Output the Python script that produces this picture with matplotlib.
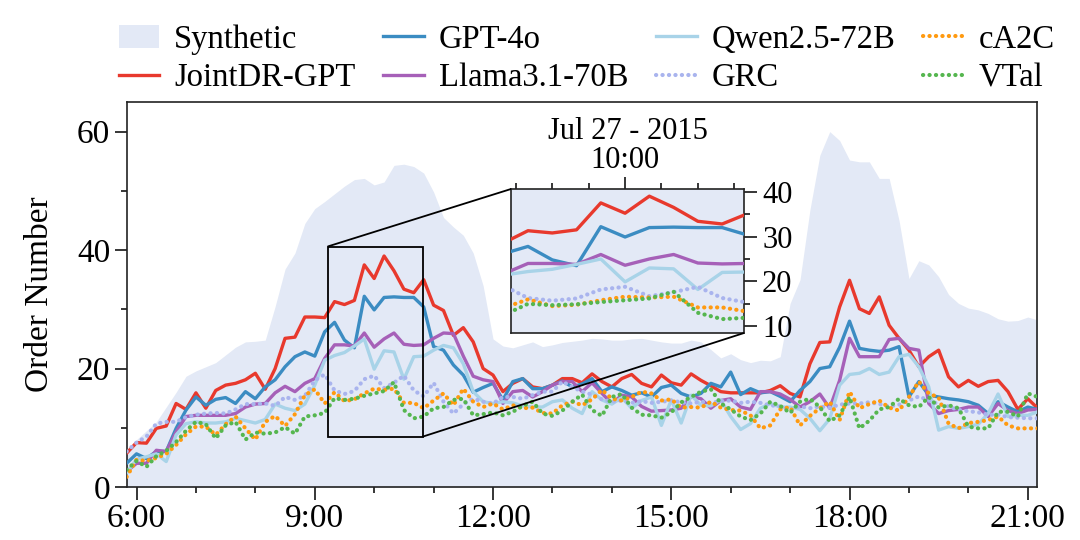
import numpy as np
import pandas as pd
import matplotlib
matplotlib.use("Agg")
import matplotlib.pyplot as plt
import matplotlib.dates as mdates
from matplotlib.ticker import FuncFormatter, MultipleLocator
from matplotlib.lines import Line2D
from matplotlib.patches import Patch
from mpl_toolkits.axes_grid1.inset_locator import mark_inset

plt.rcParams['font.family'] = ['Liberation Serif', 'DejaVu Serif']

# sampling grid: 10-minute steps, 05:50 .. 21:10 on Jul 27 2015
times = pd.date_range("2015-07-27 05:50", "2015-07-27 21:10", freq="10min").to_numpy()

labels = ["Synthetic", "JointDR-GPT", "GPT-4o", "Llama3.1-70B",
          "Qwen2.5-72B", "GRC", "cA2C", "VTal"]

synthetic = [5.5,
             8.0, 9.5, 11.0, 13.5, 16.0, 18.7,
             19.6, 20.3, 21.0, 22.3, 23.6, 24.5,
             24.6, 24.8, 30.5, 36.8, 39.5, 44.5,
             47.0, 48.2, 49.5, 50.8, 51.9, 52.1,
             51.0, 51.5, 54.3, 54.5, 54.1, 53.0,
             49.8, 45.5, 43.9, 42.5, 39.5, 34.0,
             25.0, 23.8, 23.5, 24.0, 24.5, 23.7,
             24.0, 24.4, 24.6, 24.8, 25.1, 25.0,
             24.8, 24.8, 25.0, 25.1, 24.8, 24.5,
             24.3, 24.3, 24.8, 24.5, 23.2, 21.8,
             22.5, 21.5, 21.0, 21.4, 21.3, 22.0,
             31.0, 35.0, 46.8, 56.0, 60.0, 58.5,
             55.2, 54.9, 54.9, 52.1, 52.1, 45.0,
             35.2, 38.2, 37.5, 35.5, 32.5, 31.0,
             30.2, 29.9, 29.3, 28.4, 28.0, 28.1,
             28.7, 28.2]

jointdr = [5.7,
           7.5, 7.4, 9.9, 10.3, 14.1, 13.1,
           15.9, 13.3, 16.3, 17.2, 17.5, 18.1,
           19.2, 16.5, 20.0, 25.1, 25.3, 28.7,
           28.7, 28.6, 31.3, 30.8, 31.5, 37.5,
           35.2, 39.0, 36.5, 33.4, 32.8, 35.0,
           30.7, 29.8, 25.6, 26.9, 24.5, 20.0,
           18.9, 16.1, 17.5, 18.3, 16.9, 16.6,
           17.2, 18.3, 18.3, 17.6, 19.1, 17.8,
           16.9, 18.3, 19.0, 17.5, 16.9, 18.9,
           17.6, 17.2, 19.1, 18.0, 17.1, 16.1,
           15.9, 15.9, 15.9, 15.9, 16.3, 17.1,
           15.8, 15.2, 20.8, 24.4, 24.5, 30.4,
           34.9, 30.1, 29.3, 32.1, 27.3, 25.1,
           23.1, 20.3, 22.0, 23.1, 18.6, 16.9,
           18.0, 17.0, 17.8, 18.0, 16.1, 13.1,
           14.9, 13.3]

gpt4o = [4.0,
         5.6, 4.8, 6.0, 6.0, 9.9, 13.0,
         15.2, 13.8, 14.8, 15.1, 14.1, 16.1,
         14.9, 16.9, 18.1, 20.3, 22.0, 22.8,
         22.1, 26.2, 27.8, 24.8, 23.5, 32.2,
         29.9, 32.0, 32.1, 32.0, 32.0, 30.4,
         23.7, 23.1, 20.6, 18.9, 16.0, 16.8,
         17.5, 14.7, 17.8, 18.3, 16.6, 16.6,
         17.2, 17.9, 16.9, 17.4, 18.3, 16.1,
         16.9, 16.3, 15.5, 15.9, 15.2, 16.8,
         17.2, 15.8, 15.2, 15.8, 17.5, 16.9,
         19.4, 15.6, 16.6, 15.9, 16.1, 15.3,
         14.4, 16.3, 17.8, 20.0, 20.3, 23.6,
         28.0, 23.4, 23.1, 22.9, 23.1, 23.7,
         15.2, 17.8, 15.5, 15.2, 14.9, 14.7,
         14.4, 13.8, 12.4, 14.4, 13.5, 12.7,
         13.5, 13.1]

llama = [2.6,
         4.0, 4.0, 6.2, 6.0, 9.3, 11.9,
         12.1, 12.1, 12.1, 12.1, 12.4, 13.5,
         14.0, 14.1, 15.9, 17.0, 16.1, 17.5,
         18.3, 21.7, 24.0, 24.0, 23.8, 26.0,
         23.6, 25.0, 26.0, 24.1, 23.9, 24.0,
         25.1, 26.0, 25.9, 22.1, 18.7, 18.1,
         17.8, 14.1, 16.1, 16.3, 15.2, 16.1,
         17.2, 17.8, 17.8, 16.1, 17.6, 15.8,
         14.1, 15.5, 15.2, 13.6, 12.8, 12.9,
         13.0, 13.3, 15.3, 14.9, 13.3, 14.6,
         14.9, 13.5, 13.1, 16.1, 16.1, 15.7,
         14.8, 13.5, 14.4, 15.7, 13.3, 18.0,
         25.1, 22.0, 22.0, 22.0, 24.9, 25.1,
         23.4, 23.1, 14.1, 12.4, 12.9, 13.1,
         13.5, 13.5, 11.9, 14.1, 12.9, 12.4,
         13.0, 13.1]

qwen = [2.3,
        4.7, 5.1, 5.6, 4.3, 8.8, 10.7,
        11.0, 10.8, 10.8, 11.0, 11.6, 11.2,
        10.8, 11.4, 14.0, 13.3, 12.9, 14.0,
        17.2, 21.4, 22.2, 22.7, 23.8, 25.0,
        19.9, 23.0, 22.8, 18.2, 22.0, 22.1,
        23.1, 23.9, 23.5, 20.8, 16.1, 14.4,
        14.1, 14.4, 14.2, 13.7, 13.5, 13.5,
        14.4, 14.7, 13.3, 12.4, 16.1, 14.7,
        14.0, 15.1, 13.3, 14.6, 15.2, 10.4,
        14.7, 10.8, 15.5, 13.8, 13.7, 14.7,
        11.9, 9.7, 10.7, 13.3, 14.1, 13.5,
        13.5, 13.1, 11.6, 9.5, 11.5, 17.2,
        19.0, 19.2, 20.0, 19.0, 19.4, 22.0,
        22.4, 20.3, 16.9, 9.6, 10.2, 9.9,
        10.2, 10.6, 12.4, 15.7, 11.9, 12.1,
        12.1, 12.7]

grc = [6.0,
       7.5, 8.5, 10.7, 11.0, 11.0, 11.8,
       12.2, 12.4, 12.5, 12.4, 13.1, 14.0,
       14.0, 14.1, 13.7, 15.2, 14.7, 15.4,
       18.0, 19.0, 16.3, 15.7, 16.2, 18.2,
       18.8, 16.7, 17.6, 18.8, 16.3, 15.3,
       17.6, 14.4, 12.4, 14.0, 14.9, 14.4,
       14.1, 15.2, 15.2, 14.9, 15.5, 16.1,
       16.1, 17.8, 16.9, 16.1, 15.6, 14.8,
       14.4, 14.6, 14.2, 14.5, 14.2, 14.4,
       14.6, 14.3, 14.1, 14.4, 14.2, 14.5,
       14.6, 14.2, 14.4, 14.2, 13.8, 13.6,
       13.0, 13.6, 13.3, 13.6, 13.4, 13.9,
       14.1, 14.1, 14.3, 14.0, 13.6, 13.9,
       14.6, 15.3, 14.6, 14.0, 13.6, 13.0,
       12.8, 12.6, 12.2, 12.2, 11.8, 11.7,
       11.6, 11.6]

ca2c = [1.7,
        4.6, 4.4, 4.9, 5.6, 7.1, 8.9,
        10.2, 10.2, 8.8, 10.6, 11.9, 9.9,
        8.0, 11.0, 12.0, 10.3, 12.3, 15.5,
        16.5, 14.1, 16.0, 14.5, 14.8, 15.8,
        16.6, 16.4, 16.6, 14.2, 14.2, 13.3,
        14.6, 15.8, 13.8, 16.6, 14.4, 13.5,
        14.1, 13.1, 13.8, 13.3, 13.4, 12.5,
        12.4, 13.8, 14.4, 13.8, 14.8, 16.4,
        14.9, 14.6, 15.2, 16.1, 15.8, 14.6,
        14.8, 13.4, 13.5, 13.4, 14.4, 13.4,
        13.0, 12.9, 12.1, 9.9, 10.4, 13.1,
        13.5, 10.4, 12.0, 13.3, 14.4, 11.3,
        16.1, 13.3, 14.0, 14.6, 13.4, 12.9,
        15.2, 17.8, 15.8, 15.1, 10.7, 9.9,
        10.8, 11.0, 11.3, 11.9, 10.4, 9.9,
        9.9, 9.9]

vtal = [2.9,
        4.4, 3.4, 5.2, 6.1, 7.6, 9.5,
        11.0, 10.6, 8.2, 10.4, 11.0, 8.0,
        9.2, 9.0, 9.2, 10.1, 9.0, 11.9,
        12.1, 12.5, 15.0, 14.7, 14.9, 15.4,
        15.8, 16.2, 17.7, 13.0, 11.6, 11.9,
        13.3, 13.5, 14.7, 14.9, 12.1, 12.3,
        12.6, 12.1, 12.7, 13.7, 14.4, 12.4,
        12.0, 12.9, 14.4, 15.6, 13.0, 12.0,
        15.2, 15.7, 13.4, 12.2, 12.1, 11.7,
        12.6, 14.3, 15.2, 16.1, 16.5, 14.1,
        13.1, 11.9, 11.3, 12.4, 14.4, 13.7,
        12.5, 14.4, 14.9, 13.5, 11.1, 12.1,
        15.2, 9.9, 11.2, 13.1, 13.5, 14.9,
        13.8, 13.5, 15.2, 13.4, 13.8, 13.3,
        10.2, 9.9, 9.9, 12.7, 12.7, 11.9,
        15.8, 15.2]

C_SYN = '#e3e9f6'
C_RED = '#e8392d'
C_BLUE = '#3b8cc2'
C_PURP = '#a660b8'
C_QWEN = '#a8d3e8'
C_GRC = '#a9b4ee'
C_ORG = '#ff9a10'
C_GRN = '#55b64f'

LW = 2.4
DOT = (0, (0.05, 1.5))
DLW = 3.0

series = [
    (jointdr, C_RED, '-', LW),
    (gpt4o, C_BLUE, '-', LW),
    (llama, C_PURP, '-', LW),
    (qwen, C_QWEN, '-', LW),
    (grc, C_GRC, DOT, DLW),
    (ca2c, C_ORG, DOT, DLW),
    (vtal, C_GRN, DOT, DLW),
]


def draw(a):
    a.fill_between(times, 0, synthetic, color=C_SYN, lw=0, zorder=1)
    for vals, col, ls, lw in series:
        a.plot(times, vals, color=col, linestyle=ls, lw=lw,
               dash_capstyle='round', solid_capstyle='round',
               solid_joinstyle='round', zorder=3)


def hm(x, pos=None):
    d = mdates.num2date(x)
    return f"{d.hour}:{d.minute:02d}"


fig = plt.figure(figsize=(10.8, 5.4), dpi=100)
ax = fig.add_axes([127 / 1080, 1 - 487 / 540, 910 / 1080, 385 / 540])
draw(ax)
ax.set_xlim(pd.Timestamp("2015-07-27 05:50:24"), pd.Timestamp("2015-07-27 21:09:18"))
ax.set_ylim(0, 65)
ax.xaxis.set_major_locator(mdates.HourLocator(byhour=[6, 9, 12, 15, 18, 21]))
ax.xaxis.set_minor_locator(mdates.HourLocator())
ax.xaxis.set_major_formatter(FuncFormatter(hm))
ax.yaxis.set_major_locator(MultipleLocator(20))
ax.yaxis.set_minor_locator(MultipleLocator(10))
ax.tick_params(which='major', direction='out', length=9, width=1.1, labelsize=24, pad=3)
ax.tick_params(which='minor', direction='out', length=4.5, width=1.1)
ax.set_ylabel("Order Number", fontsize=24, labelpad=16)
for s in ax.spines.values():
    s.set_linewidth(1.2)
    s.set_color('#222222')

# legend
handles = [Patch(facecolor=C_SYN, edgecolor='none')]
for vals, col, ls, lw in series:
    handles.append(Line2D([], [], color=col, linestyle=ls, lw=lw, dash_capstyle='round'))
ax.legend(handles, labels, ncol=4, loc='center', bbox_to_anchor=(0.505, 1.112),
          frameon=False, fontsize=23.5, handlelength=1.25, handletextpad=0.45,
          columnspacing=0.85, labelspacing=0.25, borderpad=0.2)

# inset
axins = fig.add_axes([511 / 1080, 1 - 333 / 540, 233 / 1080, 144 / 540])
draw(axins)
axins.set_xlim(pd.Timestamp("2015-07-27 09:13"), pd.Timestamp("2015-07-27 10:49"))
axins.set_ylim(8.5, 40.6)
axins.xaxis.tick_top()
axins.yaxis.tick_right()
axins.xaxis.set_major_locator(mdates.HourLocator(byhour=[10]))
axins.xaxis.set_minor_locator(mdates.MinuteLocator(byminute=[0, 15, 30, 45]))
axins.xaxis.set_major_formatter(FuncFormatter(hm))
axins.yaxis.set_major_locator(MultipleLocator(10))
axins.yaxis.set_minor_locator(MultipleLocator(5))
axins.tick_params(which='major', direction='out', length=9, width=1.1, labelsize=22, pad=4)
axins.tick_params(axis='x', which='major', pad=1)
axins.tick_params(which='minor', direction='out', length=4.5, width=1.1)
axins.set_title("Jul 27 - 2015", fontsize=22, pad=4)
for s in axins.spines.values():
    s.set_linewidth(1.2)
    s.set_color('#222222')

mark_inset(ax, axins, loc1=2, loc2=4, fc="none", ec="black", lw=1.3, zorder=6)

fig.savefig("out.png", dpi=100)
